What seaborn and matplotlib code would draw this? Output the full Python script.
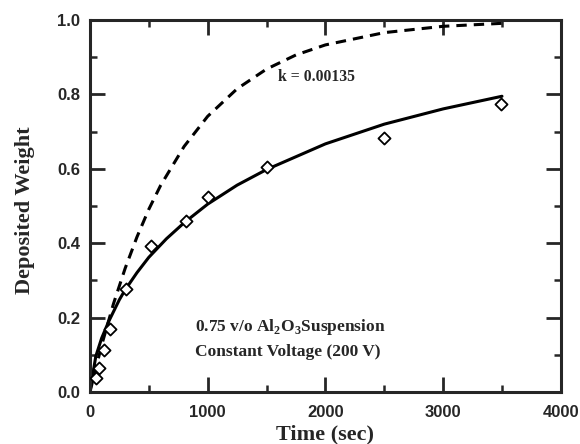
import matplotlib
matplotlib.use("Agg")
import matplotlib.pyplot as plt
import seaborn as sns
import pandas as pd
from matplotlib.ticker import MultipleLocator

# Measured data (diamonds)
time_pts = [55, 75, 120, 170, 305, 515, 820, 1000, 1500, 2500, 3490]
weight_pts = [0.038, 0.065, 0.112, 0.170, 0.277, 0.392, 0.460, 0.524, 0.604, 0.683, 0.775]

# Fitted curve (solid)
fit_time = [0, 50, 100, 160, 250, 300, 400, 500, 650, 800, 1000, 1250, 1500, 2000, 2500, 3000, 3500]
fit_weight = [0.0, 0.096, 0.145, 0.190, 0.248, 0.275, 0.321, 0.362, 0.412, 0.455, 0.505, 0.556,
              0.598, 0.667, 0.720, 0.761, 0.795]

# k = 0.00135 curve (dashed)
k_time = [0, 100, 200, 300, 400, 500, 600, 800, 1000, 1250, 1500, 1750, 2000, 2500, 3000, 3500]
k_weight = [0.0, 0.126, 0.237, 0.333, 0.417, 0.491, 0.555, 0.660, 0.741, 0.815, 0.868, 0.906,
            0.933, 0.966, 0.983, 0.991]

x_ticks = [0, 1000, 2000, 3000, 4000]
y_ticks = [0.0, 0.2, 0.4, 0.6, 0.8, 1.0]
y_tick_labels = ["0.0", "0.2", "0.4", "0.6", "0.8", "1.0"]

sns.set_style("ticks")
plt.rcParams['font.family'] = ['Liberation Serif', 'DejaVu Serif']
plt.rcParams['mathtext.fontset'] = 'custom'
plt.rcParams['mathtext.rm'] = 'Liberation Serif:bold'
plt.rcParams['mathtext.bf'] = 'Liberation Serif:bold'

fig = plt.figure(figsize=(5.8, 4.44), dpi=100)
ax = fig.add_axes([0.155, 0.117, 0.812, 0.838])

df_fit = pd.DataFrame({"t": fit_time, "w": fit_weight})
df_k = pd.DataFrame({"t": k_time, "w": k_weight})
df_pts = pd.DataFrame({"t": time_pts, "w": weight_pts})

sns.lineplot(data=df_fit, x="t", y="w", ax=ax, color="black", linewidth=2.2, estimator=None, sort=False)
sns.lineplot(data=df_k, x="t", y="w", ax=ax, color="black", linewidth=2.2, estimator=None, sort=False)
ax.lines[-1].set_dashes([3.4, 2.3])
sns.scatterplot(data=df_pts, x="t", y="w", ax=ax, marker="D", s=38, facecolor="white",
                edgecolor="black", linewidth=1.3, zorder=5)

ax.set_xlim(0, 4000)
ax.set_ylim(0, 1.0)
ax.set_xticks(x_ticks)
ax.set_xticklabels([str(v) for v in x_ticks])
ax.set_yticks(y_ticks)
ax.set_yticklabels(y_tick_labels)
ax.xaxis.set_minor_locator(MultipleLocator(500))
ax.yaxis.set_minor_locator(MultipleLocator(0.1))

ax.tick_params(which="major", direction="in", length=11, width=2, top=True, right=True,
               labelsize=12, pad=7)
ax.tick_params(axis="x", which="major", pad=9)
ax.tick_params(which="minor", direction="in", length=5, width=1.8, top=True, right=True)
for lab in ax.get_xticklabels() + ax.get_yticklabels():
    lab.set_fontfamily(['Liberation Sans', 'DejaVu Sans'])
    lab.set_fontweight('bold')
for sp in ax.spines.values():
    sp.set_linewidth(2.2)
    sp.set_visible(True)

ax.set_xlabel("Time (sec)", fontsize=16, fontweight="bold")
ax.set_ylabel("Deposited Weight", fontsize=16, fontweight="bold")
ax.xaxis.set_label_coords(0.5, -0.113)
ax.xaxis.label.set_va("center")
ax.yaxis.set_label_coords(-0.138, 0.49)
ax.yaxis.label.set_va("center")
ax.yaxis.label.set_ha("center")

ax.text(1600, 0.848, "k = 0.00135", fontsize=11.3, fontweight="bold", va="center", ha="left")
ax.text(890, 0.175, "0.75 v/o Al$_\\mathbf{2}$O$_\\mathbf{3}$Suspension", fontsize=12.5,
        fontweight="bold", va="center", ha="left")
ax.text(890, 0.108, "Constant Voltage (200 V)", fontsize=12.5, fontweight="bold", va="center", ha="left")

fig.savefig("out.png", dpi=100)
